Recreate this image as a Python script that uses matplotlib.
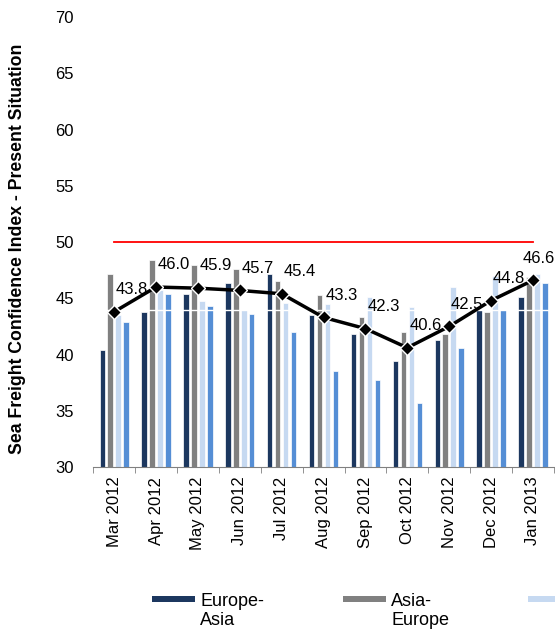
import numpy as np
import matplotlib
matplotlib.use("Agg")
import matplotlib.pyplot as plt
from matplotlib.patches import Rectangle
from matplotlib.container import BarContainer
from matplotlib.legend_handler import HandlerPatch

plt.rcParams['font.family'] = ['Liberation Sans', 'DejaVu Sans']

months = ['Mar 2012', 'Apr 2012', 'May 2012', 'Jun 2012', 'Jul 2012', 'Aug 2012',
          'Sep 2012', 'Oct 2012', 'Nov 2012', 'Dec 2012', 'Jan 2013']
europe_asia = [40.4, 43.8, 45.4, 46.4, 47.2, 43.5, 41.8, 39.4, 41.3, 44.0, 45.1]
asia_europe = [47.2, 48.4, 48.0, 47.6, 46.5, 45.3, 43.3, 42.0, 41.8, 43.8, 46.9]
transpacific = [43.5, 45.7, 44.8, 44.0, 44.6, 44.5, 45.1, 44.2, 46.0, 47.0, 47.2]
transatlantic = [42.9, 45.4, 44.3, 43.6, 42.0, 38.5, 37.7, 35.7, 40.6, 44.0, 46.4]
overall = [43.8, 46.0, 45.9, 45.7, 45.4, 43.3, 42.3, 40.6, 42.5, 44.8, 46.6]
threshold = 50

series = [('Europe-\nAsia', europe_asia, '#1c375f'),
          ('Asia-\nEurope', asia_europe, '#808080'),
          ('Transpacific', transpacific, '#c6d9f1'),
          ('Transatlantic', transatlantic, '#558ed5')]

fig = plt.figure(figsize=(5.55, 6.35), dpi=100)
ax = fig.add_axes([0.168, 0.2646, 0.830, 0.7084])

x = np.arange(len(months))
step = 0.19
width = 0.13
for i, (name, vals, col) in enumerate(series):
    ax.bar(x + (i - 1.5) * step, vals, width, color=col, edgecolor='white',
           linewidth=0.5, label=name, zorder=2)

ax.axhline(44, color='white', lw=1, zorder=3)
ax.plot(x, [threshold] * len(x), color='#ff0000', lw=1.3, zorder=4)
ax.plot(x, overall, color='black', lw=2.5, marker='D', markersize=7,
        markerfacecolor='black', markeredgecolor='white', markeredgewidth=1, zorder=5)

for i, v in enumerate(overall):
    dx = 4 if i == len(overall) - 1 else 13
    ax.annotate(f'{v:.1f}', (x[i], v), xytext=(dx, 16), textcoords='offset points',
                ha='center', va='center', fontsize=12, zorder=6)

ax.set_xlim(-0.5, len(months) - 0.5)
ax.set_ylim(30, 70)
ax.set_yticks(np.arange(30, 71, 5))
ax.set_xticks(x)
ax.set_xticklabels(months, rotation=90, fontsize=12)
ax.set_xticks(np.arange(-0.5, len(months), 1), minor=True)
ax.tick_params(axis='x', which='major', length=0, pad=7)
ax.tick_params(axis='x', which='minor', length=4, color='#808080', direction='out')
ax.tick_params(axis='y', length=0, pad=14, labelsize=12)

for side in ['top', 'right', 'left']:
    ax.spines[side].set_visible(False)
ax.spines['bottom'].set_color('#808080')

ax.set_ylabel('Sea Freight Confidence Index - Present Situation',
              fontsize=12.7, fontweight='bold')
ax.yaxis.set_label_coords(-0.145, 0.485)


# flat legend swatch sitting level with the first text line
def flat_bar(legend, orig_handle, xdescent, ydescent, width, height, fontsize):
    return Rectangle((-xdescent, -ydescent + 10), width, 4.5)


def first_bar_style(legend_patch, orig_handle):
    legend_patch.update_from(orig_handle.patches[0])
    legend_patch.set_edgecolor('none')


fig.legend(loc='upper left', bbox_to_anchor=(0.2613, 0.078), ncol=4, frameon=False,
           fontsize=13, handlelength=2.38, handleheight=0.45, handletextpad=0.28,
           columnspacing=4.37, borderaxespad=0,
           handler_map={BarContainer: HandlerPatch(patch_func=flat_bar,
                                                   update_func=first_bar_style)})

fig.savefig('out.png', dpi=100)
